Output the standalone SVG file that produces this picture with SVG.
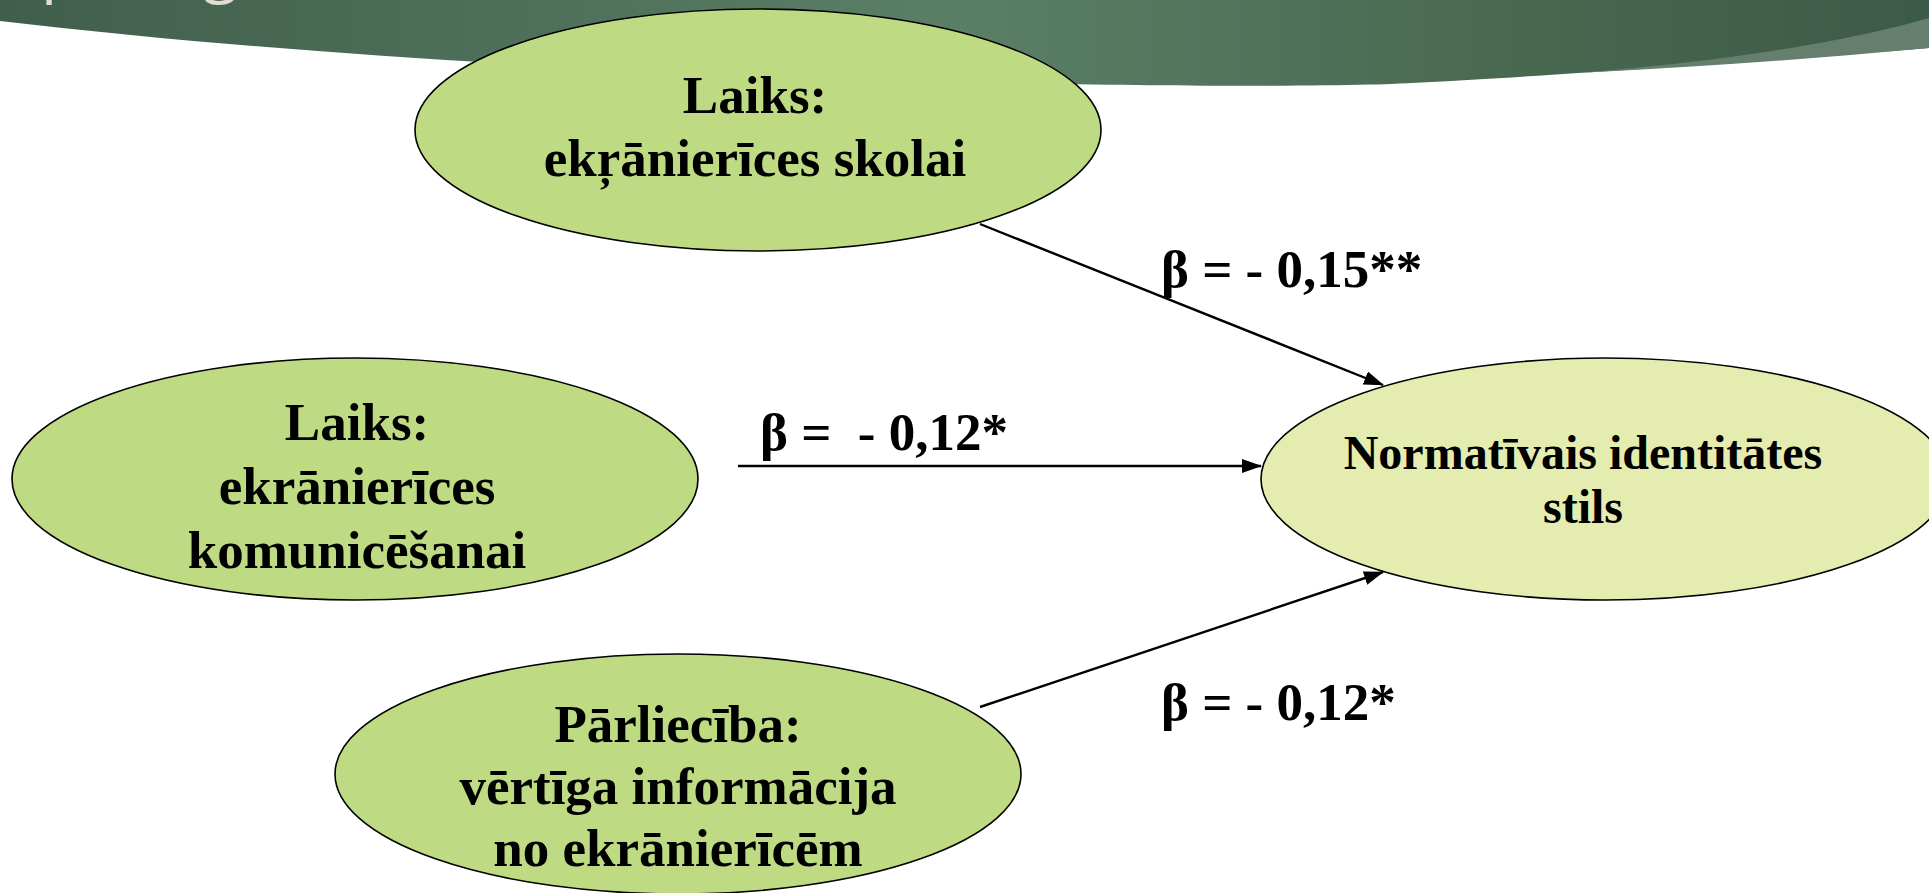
<svg xmlns="http://www.w3.org/2000/svg" width="1929" height="893" viewBox="0 0 1929 893">
<defs>
<linearGradient id="band" x1="0" y1="0" x2="1" y2="0">
<stop offset="0" stop-color="#405e4c"/>
<stop offset="0.5" stop-color="#5a7f66"/>
<stop offset="0.8" stop-color="#48674f"/>
<stop offset="1" stop-color="#3c5a48"/>
</linearGradient>
<marker id="ah" markerUnits="userSpaceOnUse" markerWidth="20" markerHeight="14" refX="19" refY="7" orient="auto">
<path d="M0,0 L20,7 L0,14 z" fill="#000"/>
</marker>
<style>
.node ellipse{stroke:#000;stroke-width:1.6}
.src{fill:#bedb84}
.dst{fill:#e4ecb0}
.t{font-family:"Liberation Serif","Times New Roman",serif;font-weight:bold;fill:#000;text-anchor:middle}
.big{font-size:53px}
.mid{font-size:48px}
.lab{font-family:"Liberation Serif","Times New Roman",serif;font-weight:bold;font-size:53px;fill:#000}
.conn{stroke:#000;stroke-width:2.4;fill:none;marker-end:url(#ah)}
.title{font-family:"Open Sans",sans-serif;font-size:64px;fill:#e3ddd5}
</style>
</defs>
<rect x="0" y="0" width="1929" height="893" fill="#ffffff"/>
<g id="banner">
<path d="M0,0 L1929,0 L1929,48 Q1760,66 1577,73 C1300,86 1150,125 1150,125 Z" fill="none"/>
<path d="M0,0 L1929,0 L1929,48 C1700,66 1420,84 1369,84.5 C1150,90 500,80 0,21 Z" fill="url(#band)"/>
<path d="M1577,73 Q1800,55 1929,18 L1929,48 Q1760,64 1577,73 Z" fill="#657e6d"/>
<text class="title" x="41" y="-10">p</text>
<text class="title" x="203" y="-10">g</text>
</g>
<g id="node-skolai" class="node">
<ellipse class="src" cx="758" cy="130" rx="343" ry="121"/>
<text class="t big" x="755" y="113">Laiks:</text>
<text class="t big" x="755" y="176">ekŗānierīces skolai</text>
</g>
<g id="node-komunicesanai" class="node">
<ellipse class="src" cx="355" cy="479" rx="343" ry="121"/>
<text class="t big" x="357" y="440">Laiks:</text>
<text class="t big" x="357" y="504">ekrānierīces</text>
<text class="t big" x="357" y="568">komunicēšanai</text>
</g>
<g id="node-parlieciba" class="node">
<ellipse class="src" cx="678" cy="774" rx="343" ry="120"/>
<text class="t big" x="678" y="742">Pārliecība:</text>
<text class="t big" x="678" y="804">vērtīga informācija</text>
<text class="t big" x="678" y="866">no ekrānierīcēm</text>
</g>
<g id="node-normativais" class="node">
<ellipse class="dst" cx="1605" cy="479" rx="344" ry="121"/>
<text class="t mid" x="1583" y="469">Normatīvais identitātes</text>
<text class="t mid" x="1583" y="523">stils</text>
</g>
<g id="connectors">
<line class="conn" x1="980" y1="224" x2="1383" y2="385"/>
<line class="conn" x1="738" y1="466" x2="1261" y2="466"/>
<line class="conn" x1="980" y1="707" x2="1383" y2="572"/>
</g>
<g id="labels">
<text class="lab" x="1161" y="287">β = - 0,15**</text>
<text class="lab" x="760" y="450" xml:space="preserve">β =  - 0,12*</text>
<text class="lab" x="1161" y="720">β = - 0,12*</text>
</g>
</svg>
